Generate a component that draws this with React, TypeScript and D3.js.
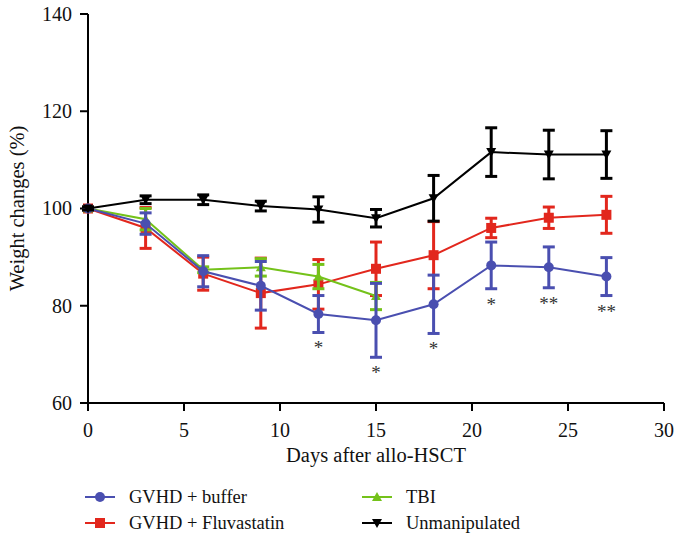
import React from "react";
import * as d3 from "d3";

const days = [0, 3, 6, 9, 12, 15, 18, 21, 24, 27];

const bufferMean = [100, 96.9, 87.1, 84.1, 78.3, 77.0, 80.3, 88.3, 87.9, 86.0];
const bufferSd = [0.3, 2.2, 3.2, 5.0, 3.8, 7.6, 6.0, 4.8, 4.2, 3.9];

const fluvaMean = [100, 96.0, 86.6, 82.6, 84.4, 87.6, 90.4, 96.0, 98.1, 98.7];
const fluvaSd = [0.3, 4.2, 3.4, 7.2, 5.1, 5.5, 6.9, 2.0, 2.2, 3.8];

const tbiDays = [0, 3, 6, 9, 12, 15];
const tbiMean = [100, 97.8, 87.4, 87.9, 86.0, 82.0];
const tbiSd = [0.3, 2.2, 0.6, 1.8, 2.5, 2.8];

const unmanMean = [100, 101.8, 101.8, 100.5, 99.8, 98.0, 102.1, 111.6, 111.1, 111.1];
const unmanSd = [0.3, 0.8, 1.0, 1.0, 2.6, 1.8, 4.7, 5.0, 5.0, 4.9];

const starDays = [12, 15, 18, 21, 24, 27];
const starLabels = ["*", "*", "*", "*", "**", "**"];

const xTicks = [0, 5, 10, 15, 20, 25, 30];
const yTicks = [60, 80, 100, 120, 140];

const BLUE = "#4a4fb0";
const RED = "#e2271d";
const GREEN = "#74c21a";
const BLACK = "#000000";

const FONT = '"Liberation Serif", "Times New Roman", serif';

type Series = {
  name: string;
  x: number[];
  mean: number[];
  sd: number[];
  color: string;
  marker: "circle" | "square" | "tri" | "triDown";
};

const series: Series[] = [
  { name: "GVHD + Fluvastatin", x: days, mean: fluvaMean, sd: fluvaSd, color: RED, marker: "square" },
  { name: "TBI", x: tbiDays, mean: tbiMean, sd: tbiSd, color: GREEN, marker: "tri" },
  { name: "GVHD + buffer", x: days, mean: bufferMean, sd: bufferSd, color: BLUE, marker: "circle" },
  { name: "Unmanipulated", x: days, mean: unmanMean, sd: unmanSd, color: BLACK, marker: "triDown" },
];

function Marker({ kind, cx, cy, color }: { kind: string; cx: number; cy: number; color: string }) {
  if (kind === "circle") return <circle cx={cx} cy={cy} r={5} fill={color} />;
  if (kind === "square") return <rect x={cx - 5} y={cy - 5} width={10} height={10} fill={color} />;
  if (kind === "tri")
    return <path d={`M${cx},${cy - 5}L${cx + 5},${cy + 4}L${cx - 5},${cy + 4}Z`} fill={color} />;
  return <path d={`M${cx},${cy + 5}L${cx + 5},${cy - 4}L${cx - 5},${cy - 4}Z`} fill={color} />;
}

function T(props: any) {
  const { children, ...rest } = props;
  return (
    <text {...rest} style={{ fontFamily: FONT }}>
      {children}
    </text>
  );
}

export default function App() {
  const W = 678;
  const H = 540;
  const x0 = 88, x1 = 664, yTop = 14, yBot = 403;
  const x = d3.scaleLinear().domain([0, 30]).range([x0, x1]);
  const y = d3.scaleLinear().domain([60, 140]).range([yBot, yTop]);
  const line = d3
    .line<[number, number]>()
    .x((d) => x(d[0]))
    .y((d) => y(d[1]));

  const legend = [
    { s: series[2], lx: 85, ly: 497 },
    { s: series[0], lx: 85, ly: 523 },
    { s: series[1], lx: 362, ly: 497 },
    { s: series[3], lx: 362, ly: 523 },
  ];

  return (
    <svg width={W} height={H} style={{ position: "absolute", left: 0, top: 0 }}>
      <rect width={W} height={H} fill="#fff" />
      {/* axes */}
      <line x1={x0} x2={x0} y1={yTop} y2={yBot} stroke="#000" strokeWidth={2} />
      <line x1={x0} x2={x1} y1={yBot} y2={yBot} stroke="#000" strokeWidth={2} />
      {yTicks.map((t) => (
        <g key={"y" + t}>
          <line x1={x0 - 8} x2={x0} y1={y(t)} y2={y(t)} stroke="#000" strokeWidth={2} />
          <T x={x0 - 16} y={y(t)} dy="0.34em" textAnchor="end" fontSize={20} fill="#111">
            {t}
          </T>
        </g>
      ))}
      {xTicks.map((t) => (
        <g key={"x" + t}>
          <line x1={x(t)} x2={x(t)} y1={yBot} y2={yBot + 8} stroke="#000" strokeWidth={2} />
          <T x={x(t)} y={yBot + 27} dy="0.34em" textAnchor="middle" fontSize={20} fill="#111">
            {t}
          </T>
        </g>
      ))}
      <T x={(x0 + x1) / 2} y={455} dy="0.34em" textAnchor="middle" fontSize={20.5} fill="#111">
        Days after allo-HSCT
      </T>
      <T
        transform={`translate(17,${y(100)}) rotate(-90)`}
        dy="0.34em"
        textAnchor="middle"
        fontSize={20.5}
        fill="#111"
      >
        Weight changes (%)
      </T>

      {/* series */}
      {series.map((s) => {
        const pts = s.x.map((d, i) => [d, s.mean[i]] as [number, number]);
        return (
          <g key={s.name}>
            <path d={line(pts) || ""} fill="none" stroke={s.color} strokeWidth={2} />
            {s.x.map((d, i) => {
              const cx = x(d);
              const top = y(s.mean[i] + s.sd[i]);
              const bot = y(s.mean[i] - s.sd[i]);
              return (
                <g key={i} stroke={s.color} strokeWidth={3}>
                  <line x1={cx} x2={cx} y1={top} y2={bot} />
                  <line x1={cx - 6} x2={cx + 6} y1={top} y2={top} />
                  <line x1={cx - 6} x2={cx + 6} y1={bot} y2={bot} />
                </g>
              );
            })}
            {s.x.map((d, i) => (
              <Marker key={"m" + i} kind={s.marker} cx={x(d)} cy={y(s.mean[i])} color={s.color} />
            ))}
          </g>
        );
      })}

      {/* significance stars */}
      {starDays.map((d, i) => {
        const idx = days.indexOf(d);
        const bot = y(bufferMean[idx] - bufferSd[idx]);
        return (
          <T key={"s" + i} x={x(d)} y={bot + 22} textAnchor="middle" fontSize={19} fill="#333">
            {starLabels[i]}
          </T>
        );
      })}

      {/* legend */}
      {legend.map(({ s, lx, ly }) => (
        <g key={"l" + s.name}>
          <line x1={lx} x2={lx + 30} y1={ly} y2={ly} stroke={s.color} strokeWidth={2} />
          <Marker kind={s.marker} cx={lx + 15} cy={ly} color={s.color} />
          <T x={lx + 44} y={ly} dy="0.34em" fontSize={18.5} fill="#111">
            {s.name}
          </T>
        </g>
      ))}
    </svg>
  );
}
